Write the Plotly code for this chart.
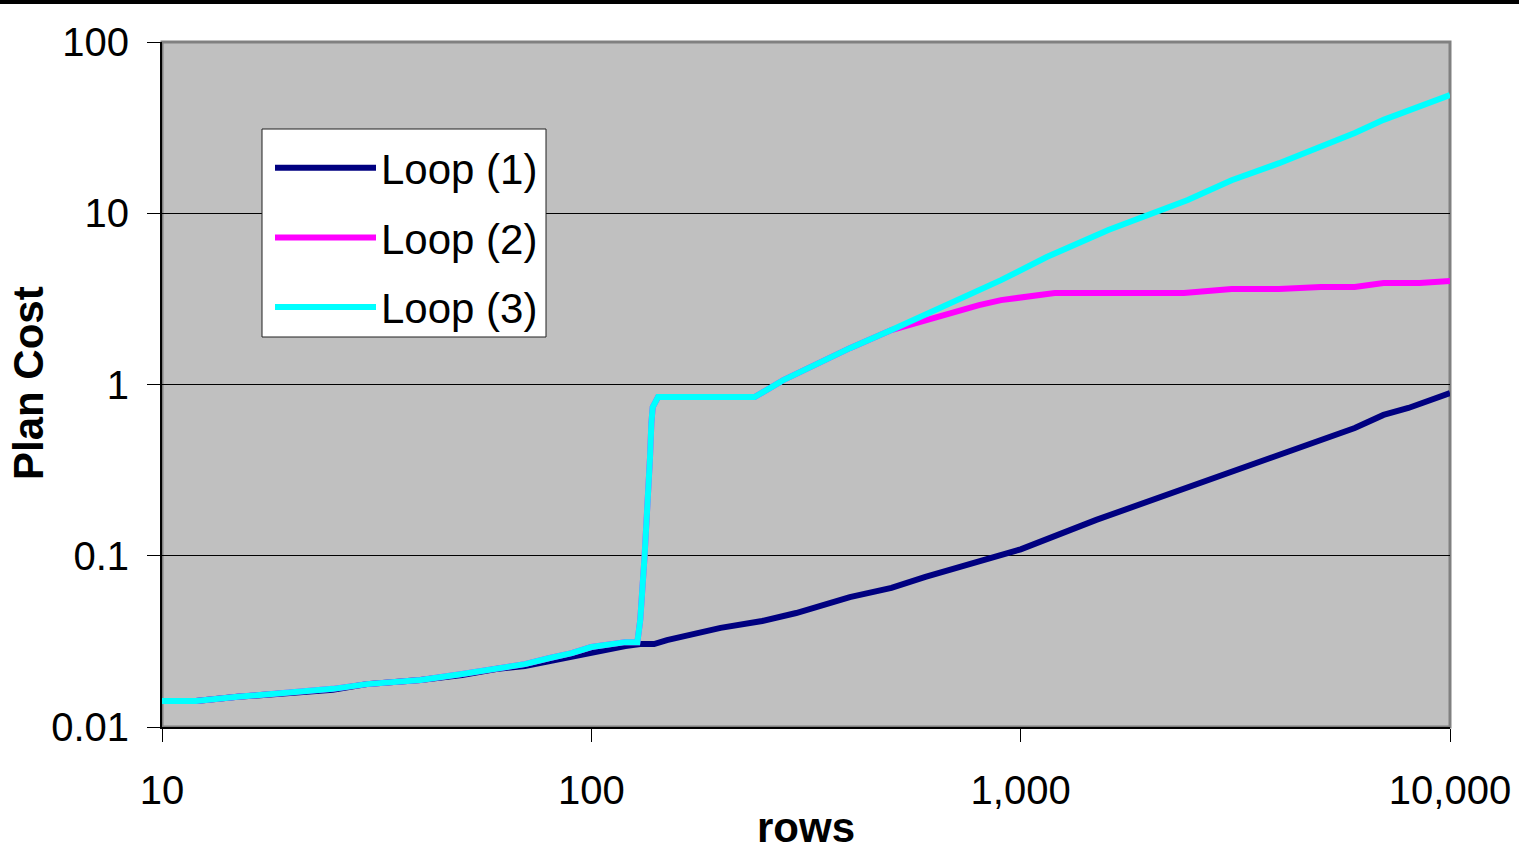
import plotly.graph_objects as go

# ---- data ----
rows_loop1 = [10, 12, 15, 20, 25, 30, 40, 50, 60, 70, 80, 90, 100, 110, 120, 130, 140, 150,
              175, 200, 250, 300, 400, 500, 600, 800, 1000, 1500, 2000, 2500, 3000, 4000,
              5000, 6000, 7000, 8000, 10000]
cost_loop1 = [0.0142, 0.0142, 0.0150, 0.0158, 0.0165, 0.0178, 0.0188, 0.0201, 0.0218, 0.0227,
              0.0243, 0.0257, 0.0270, 0.0282, 0.0297, 0.0305, 0.0305, 0.0322, 0.0349, 0.0379,
              0.0416, 0.0463, 0.0574, 0.0649, 0.0752, 0.0919, 0.109, 0.162, 0.209, 0.252,
              0.300, 0.387, 0.474, 0.557, 0.664, 0.729, 0.891]

rows_loop3 = [10, 12, 15, 20, 25, 30, 40, 50, 60, 70, 80, 90, 100, 110, 120, 128, 130, 133,
              135, 137, 138, 139, 143, 240, 280, 330, 400, 500, 900, 1150, 1600, 2450, 3100,
              4000, 5000, 6000, 7000, 10000]
cost_loop3 = [0.0142, 0.0142, 0.0150, 0.0160, 0.0167, 0.0178, 0.0188, 0.0204, 0.0218, 0.0233,
              0.0253, 0.0270, 0.0293, 0.0305, 0.0313, 0.0313, 0.0422, 0.098, 0.168, 0.377,
              0.596, 0.739, 0.845, 0.845, 1.06, 1.30, 1.63, 2.08, 4.07, 5.55, 7.98, 11.95,
              15.6, 19.6, 24.4, 29.4, 35.1, 49.0]

rows_loop2 = [10, 12, 15, 20, 25, 30, 40, 50, 60, 70, 80, 90, 100, 110, 120, 128, 130, 133,
              135, 137, 138, 139, 143, 240, 280, 330, 400, 500, 600, 700, 800, 900, 1000,
              1200, 2400, 3100, 4000, 5000, 6000, 7000, 8500, 10000]
cost_loop2 = [0.0142, 0.0142, 0.0150, 0.0160, 0.0167, 0.0178, 0.0188, 0.0204, 0.0218, 0.0233,
              0.0253, 0.0270, 0.0293, 0.0305, 0.0313, 0.0313, 0.0422, 0.098, 0.168, 0.377,
              0.596, 0.739, 0.845, 0.845, 1.06, 1.30, 1.63, 2.08, 2.38, 2.68, 2.91, 3.11, 3.24,
              3.42, 3.42, 3.61, 3.61, 3.71, 3.71, 3.91, 3.91, 4.02]

series_names = ["Loop (1)", "Loop (2)", "Loop (3)"]
series_colors = ["#000080", "#FF00FF", "#00FFFF"]

x_tickvals = [10, 100, 1000, 10000]
x_ticktext = ["10", "100", "1,000", "10,000"]
y_tickvals = [0.01, 0.1, 1, 10, 100]
y_ticktext = ["0.01", "0.1", "1", "10", "100"]

FONT = "Liberation Sans, Arial, sans-serif"

fig = go.Figure()
for name, xs, ys, col in zip(series_names,
                             [rows_loop1, rows_loop2, rows_loop3],
                             [cost_loop1, cost_loop2, cost_loop3],
                             series_colors):
    fig.add_trace(go.Scatter(x=xs, y=ys, mode="lines", name=name, legendgroup=name,
                             line=dict(color=col, width=6)))

W, H = 1519, 866
L, R, T, B = 162, 69, 42, 139
pw, ph = W - L - R, H - T - B


def px_x(p):
    return (p - L) / pw


def px_y(p):
    return (H - B - p) / ph


fig.update_layout(
    template="none",
    width=W, height=H,
    margin=dict(l=L, r=R, t=T, b=B, autoexpand=False),
    paper_bgcolor="white",
    plot_bgcolor="#C0C0C0",
    font=dict(family=FONT, color="black", size=40),
    legend=dict(
        x=px_x(270), y=px_y(134), xanchor="left", yanchor="top",
        bgcolor="rgba(0,0,0,0)", borderwidth=0,
        font=dict(size=42, family=FONT),
        itemwidth=101, traceorder="grouped", tracegroupgap=12,
    ),
    xaxis=dict(
        type="log", range=[1, 4], automargin=False,
        tickvals=x_tickvals, ticktext=x_ticktext,
        ticks="outside", ticklen=13, tickcolor="black", tickwidth=1,
        showgrid=False, showline=True, linecolor="black", linewidth=2,
        tickfont=dict(size=40), ticklabelstandoff=14,
        title=dict(text="<b>rows</b>", font=dict(size=42), standoff=2),
        zeroline=False,
    ),
    yaxis=dict(
        type="log", range=[-2, 2], automargin=False,
        tickvals=y_tickvals, ticktext=y_ticktext,
        ticks="outside", ticklen=13, tickcolor="black", tickwidth=1,
        showgrid=True, gridcolor="black", gridwidth=1,
        showline=True, linecolor="black", linewidth=2,
        tickfont=dict(size=40), ticklabelstandoff=10,
        title=dict(text="", font=dict(size=42)),
        zeroline=False,
    ),
    annotations=[
        dict(text="<b>Plan Cost</b>", xref="paper", yref="paper",
             x=px_x(28), y=px_y(383), textangle=-90, showarrow=False,
             xanchor="center", yanchor="middle", font=dict(size=42, family=FONT)),
    ],
    shapes=[
        dict(type="rect", xref="paper", yref="paper", x0=0, x1=1, y0=0, y1=1,
             line=dict(color="#808080", width=3), layer="below"),
        dict(type="rect", xref="paper", yref="paper",
             x0=-L / pw, x1=(W - L) / pw, y0=px_y(4), y1=px_y(0),
             fillcolor="black", line=dict(width=0)),
        # legend frame
        dict(type="rect", xref="paper", yref="paper",
             x0=px_x(262), x1=px_x(546), y0=px_y(337), y1=px_y(129),
             fillcolor="white", line=dict(color="#202020", width=1), layer="above"),
    ],
)

fig.write_html("out.html",
               config={"displayModeBar": False},
               post_script="document.body.style.margin='0px';document.body.style.overflow='hidden';")
